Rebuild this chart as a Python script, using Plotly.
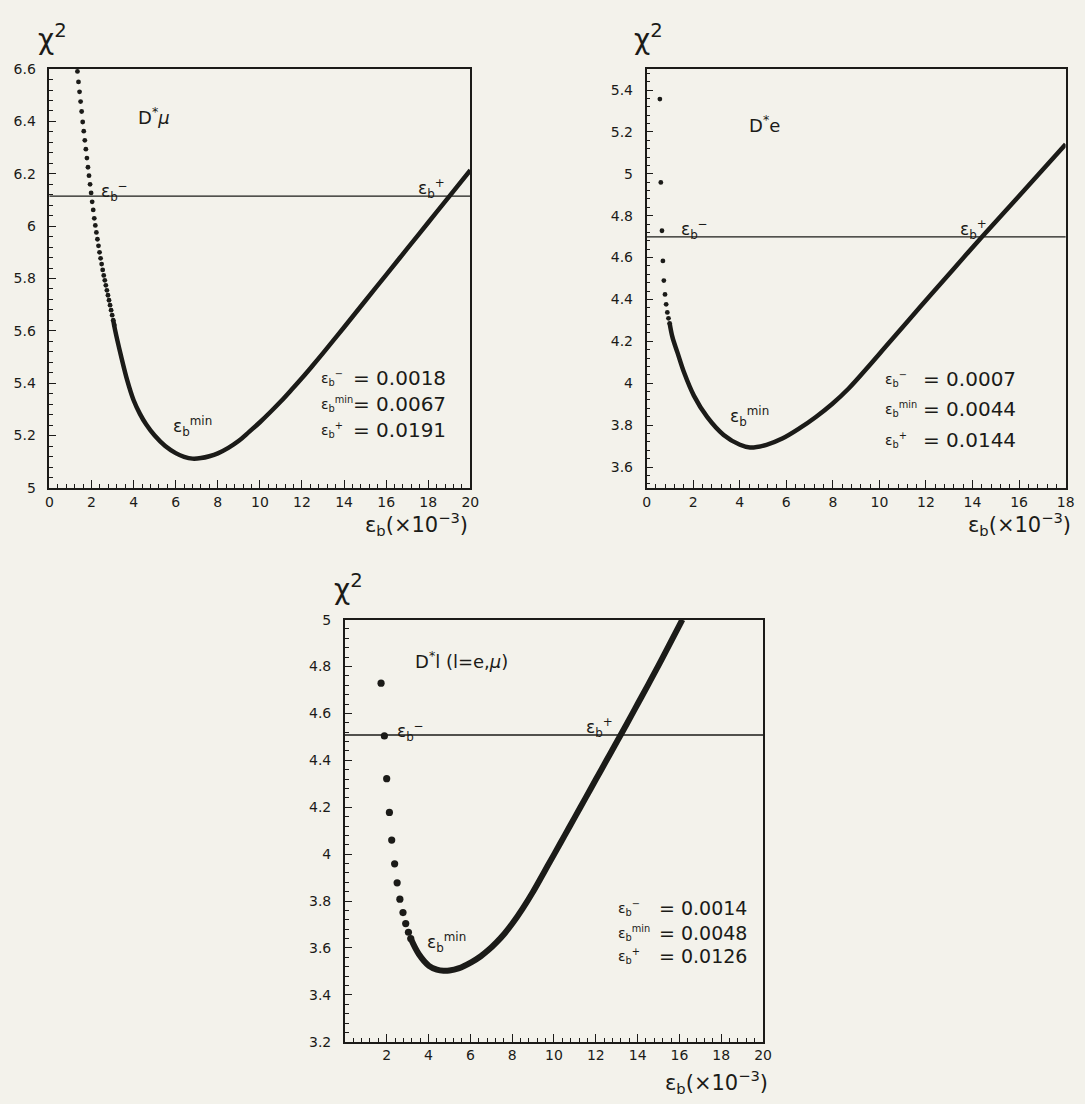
import plotly.graph_objects as go

W, H = 1085, 1104
INK = "#1b1b18"
PAPER = "#f3f2eb"
FONT = "DejaVu Sans"

# ---------------- data ----------------
# Panel 1 : D*mu
mu_dot_eps = [1.33, 1.38, 1.43, 1.48, 1.53, 1.58, 1.63, 1.68, 1.73, 1.78, 1.83, 1.88, 1.93,
              1.98, 2.03, 2.08, 2.13, 2.18, 2.23, 2.28, 2.33, 2.38, 2.43, 2.48, 2.53, 2.58,
              2.63, 2.68, 2.73, 2.78, 2.83, 2.88, 2.93, 2.98, 3.03, 3.08]
mu_dot_chi2 = [6.591, 6.551, 6.513, 6.476, 6.438, 6.398, 6.363, 6.328, 6.294, 6.260, 6.225, 6.193, 6.160,
               6.127, 6.093, 6.062, 6.030, 6.003, 5.976, 5.950, 5.925, 5.900, 5.877, 5.855, 5.833, 5.812,
               5.793, 5.774, 5.755, 5.736, 5.717, 5.698, 5.679, 5.660, 5.641, 5.622]
mu_eps = [3.03, 3.12, 3.40, 3.70, 4.00, 4.30, 4.60, 5.00, 5.50, 6.00, 6.40, 6.80, 7.20, 7.60, 8.00, 8.50,
          9.00, 9.50, 10.0, 10.5, 11.0, 11.5, 12.0, 12.5, 13.0, 14.0, 15.0, 16.0, 17.0, 18.0, 19.0, 20.0]
mu_chi2 = [5.641, 5.603, 5.505, 5.410, 5.335, 5.283, 5.242, 5.200, 5.160, 5.133, 5.119, 5.112, 5.114,
           5.121, 5.132, 5.153, 5.180, 5.215, 5.251, 5.290, 5.331, 5.375, 5.420, 5.467, 5.515, 5.614,
           5.714, 5.814, 5.914, 6.014, 6.114, 6.214]
mu_level = 6.115
mu_results = ["0.0018", "0.0067", "0.0191"]
mu_xticks = [0, 2, 4, 6, 8, 10, 12, 14, 16, 18, 20]
mu_xtext = ["0", "2", "4", "6", "8", "10", "12", "14", "16", "18", "20"]
mu_yticks = [5.0, 5.2, 5.4, 5.6, 5.8, 6.0, 6.2, 6.4, 6.6]
mu_ytext = ["5", "5.2", "5.4", "5.6", "5.8", "6", "6.2", "6.4", "6.6"]

# Panel 2 : D*e
e_dot_eps = [0.57, 0.61, 0.66, 0.70, 0.74, 0.79, 0.84, 0.89, 0.94, 0.99]
e_dot_chi2 = [5.357, 4.959, 4.728, 4.584, 4.490, 4.424, 4.377, 4.338, 4.310, 4.286]
e_eps = [0.99, 1.11, 1.33, 1.61, 2.03, 2.60, 3.31, 4.01, 4.44, 5.15, 5.85, 6.56, 7.27, 7.97, 8.68,
         9.53, 10.31, 11.72, 13.14, 14.41, 15.97, 18.0]
e_chi2 = [4.286, 4.220, 4.145, 4.051, 3.941, 3.839, 3.753, 3.706, 3.693, 3.706, 3.737, 3.784, 3.839, 3.901,
          3.975, 4.080, 4.180, 4.360, 4.540, 4.699, 4.890, 5.141]
e_level = 4.699
e_results = ["0.0007", "0.0044", "0.0144"]
e_xticks = [0, 2, 4, 6, 8, 10, 12, 14, 16, 18]
e_xtext = ["0", "2", "4", "6", "8", "10", "12", "14", "16", "18"]
e_yticks = [3.6, 3.8, 4.0, 4.2, 4.4, 4.6, 4.8, 5.0, 5.2, 5.4]
e_ytext = ["3.6", "3.8", "4", "4.2", "4.4", "4.6", "4.8", "5", "5.2", "5.4"]

# Panel 3 : D*l (l = e, mu)
l_dot_eps = [1.73, 1.89, 2.00, 2.13, 2.24, 2.38, 2.50, 2.63, 2.78, 2.91, 3.04, 3.15]
l_dot_chi2 = [4.729, 4.504, 4.322, 4.178, 4.060, 3.959, 3.878, 3.808, 3.751, 3.704, 3.667, 3.640]
l_eps = [3.15, 3.54, 4.02, 4.40, 4.72, 5.00, 5.43, 6.06, 6.50, 6.85, 7.25, 7.64, 8.00, 8.50, 9.00, 9.50,
         10.0, 10.5, 11.0, 11.5, 12.0, 12.5, 13.0, 13.5, 14.0, 14.5, 15.0, 15.5, 16.14]
l_chi2 = [3.640, 3.573, 3.524, 3.508, 3.503, 3.504, 3.513, 3.540, 3.565, 3.590, 3.624, 3.662, 3.703, 3.768,
          3.840, 3.919, 3.998, 4.078, 4.158, 4.238, 4.318, 4.398, 4.478, 4.558, 4.640, 4.722, 4.805,
          4.890, 5.000]
l_level = 4.508
l_results = ["0.0014", "0.0048", "0.0126"]
l_xticks = [0, 2, 4, 6, 8, 10, 12, 14, 16, 18, 20]
l_xtext = ["", "2", "4", "6", "8", "10", "12", "14", "16", "18", "20"]
l_yticks = [3.2, 3.4, 3.6, 3.8, 4.0, 4.2, 4.4, 4.6, 4.8, 5.0]
l_ytext = ["3.2", "3.4", "3.6", "3.8", "4", "4.2", "4.4", "4.6", "4.8", "5"]

# ---------------- layout geometry (pixels) ----------------
P1 = dict(x0=46, x1=472, y0=62, y1=487)
P2 = dict(x0=650.4, x1=1074.5, y0=62, y1=487)
P3 = dict(x0=345, x1=768.3, y0=620.6, y1=1049)


def xdom(p):
    return [p["x0"] / W, p["x1"] / W]


def ydom(p):
    return [1 - p["y1"] / H, 1 - p["y0"] / H]


def px(x):
    return x / W


def py(y):
    return 1 - y / H


fig = go.Figure()


def add_panel(idx, dots_x, dots_y, line_x, line_y, dot_size, lw):
    xa = "x" if idx == 1 else f"x{idx}"
    ya = "y" if idx == 1 else f"y{idx}"
    fig.add_trace(go.Scatter(x=line_x, y=line_y, mode="lines", xaxis=xa, yaxis=ya,
                             line=dict(color=INK, width=lw, shape="spline", smoothing=1.0),
                             hoverinfo="skip", showlegend=False))
    fig.add_trace(go.Scatter(x=dots_x, y=dots_y, mode="markers", xaxis=xa, yaxis=ya,
                             marker=dict(color=INK, size=dot_size, line=dict(width=0)),
                             hoverinfo="skip", showlegend=False))


add_panel(1, mu_dot_eps, mu_dot_chi2, mu_eps, mu_chi2, 4.8, 4.5)
add_panel(2, e_dot_eps, e_dot_chi2, e_eps, e_chi2, 4.8, 4.5)
add_panel(3, l_dot_eps, l_dot_chi2, l_eps, l_chi2, 7.2, 6.0)

# horizontal delta-chi2 = 1 lines
for idx, lev in [(1, mu_level), (2, e_level), (3, l_level)]:
    xa = "x" if idx == 1 else f"x{idx}"
    ya = "y" if idx == 1 else f"y{idx}"
    fig.add_shape(type="line", xref=f"{xa} domain", yref=ya, x0=0, x1=1, y0=lev, y1=lev,
                  line=dict(color=INK, width=1.3), layer="below")

tickfont = dict(family=FONT, size=14, color=INK)


def xaxis(p, rng, tv, tt, yanchor):
    return dict(domain=xdom(p), range=rng, anchor=yanchor, tickvals=tv, ticktext=tt,
                showline=True, linecolor=INK, linewidth=1.6, mirror=True,
                ticks="inside", ticklen=8, tickwidth=1.2, tickcolor=INK,
                minor=dict(ticks="inside", dtick=0.4, ticklen=4, tickwidth=1, tickcolor=INK, showgrid=False),
                showgrid=False, zeroline=False, tickfont=tickfont, ticklabelstandoff=0)


def yaxis(p, rng, tv, tt, xanchor):
    return dict(domain=ydom(p), range=rng, anchor=xanchor, tickvals=tv, ticktext=tt,
                showline=True, linecolor=INK, linewidth=1.6, mirror=True,
                ticks="inside", ticklen=7, tickwidth=1.2, tickcolor=INK,
                minor=dict(ticks="inside", dtick=0.04, ticklen=4, tickwidth=1, tickcolor=INK, showgrid=False),
                showgrid=False, zeroline=False, tickfont=tickfont, ticklabelstandoff=9)


fig.update_layout(
    width=W, height=H, autosize=False,
    margin=dict(l=0, r=0, t=0, b=0),
    paper_bgcolor=PAPER, plot_bgcolor=PAPER,
    xaxis=xaxis(P1, [0, 20], mu_xticks, mu_xtext, "y"),
    yaxis=yaxis(P1, [5, 6.6], mu_yticks, mu_ytext, "x"),
    xaxis2=xaxis(P2, [0, 18], e_xticks, e_xtext, "y2"),
    yaxis2=yaxis(P2, [3.5, 5.5], e_yticks, e_ytext, "x2"),
    xaxis3=xaxis(P3, [0, 20], l_xticks, l_xtext, "y3"),
    yaxis3=yaxis(P3, [3.2, 5.0], l_yticks, l_ytext, "x3"),
)

ann = []


def text(x, y, s, size, xanchor="left", yanchor="middle"):
    ann.append(dict(x=px(x), y=py(y), xref="paper", yref="paper", text=s, showarrow=False,
                    xanchor=xanchor, yanchor=yanchor,
                    font=dict(family=FONT, size=size, color=INK)))


EM = "ε<sub>b</sub><sup>−</sup>"
EP = "ε<sub>b</sub><sup>+</sup>"
EN = "ε<sub>b</sub><sup>min</sup>"
CHI = "χ<sup>2</sup>"
XT = "ε<sub>b</sub>(×10<sup>−3</sup>)"

# panel 1
text(32, 30, CHI, 28)
text(134, 110, "D<sup>*</sup><i>μ</i>", 18)
text(96, 186, EM, 17)
text(417, 183, EP, 17)
text(169, 425, EN, 17)
for lab, val, yy in zip([EM, EN, EP], mu_results, [375, 402, 428]):
    text(319, yy, lab, 14)
    text(351, yy, "= " + val, 20)
text(472, 524, XT, 21, xanchor="right")

# panel 2
text(636, 30, CHI, 28)
text(752, 118, "D<sup>*</sup>e", 18)
text(683, 225, EM, 17)
text(966, 225, EP, 17)
text(733, 415, EN, 17)
for lab, val, yy in zip([EM, EN, EP], e_results, [376, 407, 438]):
    text(890, yy, lab, 14)
    text(928, yy, "= " + val, 20)
text(1082, 524, XT, 21, xanchor="right")

# panel 3
text(332, 588, CHI, 28)
text(414, 662, "D<sup>*</sup>l (l=e,<i>μ</i>)", 18)
text(396, 734, EM, 17)
text(587, 730, EP, 17)
text(426, 948, EN, 17)
for lab, val, yy in zip([EM, EN, EP], l_results, [913, 939, 962]):
    text(619, yy, lab, 14)
    text(661, yy, "= " + val, 19)
text(775, 1090, XT, 21, xanchor="right")

fig.update_layout(annotations=ann)

fig.write_html("out.html")
